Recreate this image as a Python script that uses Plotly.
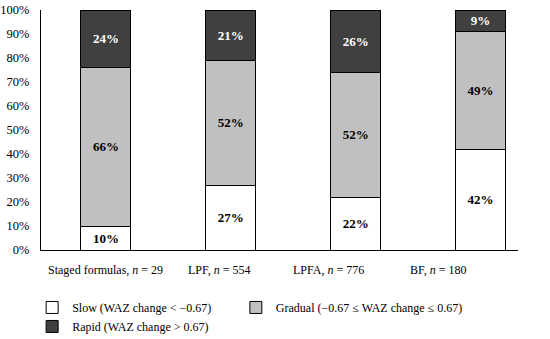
import plotly.graph_objects as go

categories = ["Staged formulas", "LPF", "LPFA", "BF"]
category_labels = ["Staged formulas, <i>n</i> = 29", "LPF, <i>n</i> = 554",
                   "LPFA, <i>n</i> = 776", "BF, <i>n</i> = 180"]
label_x = [0.0, 0.91, 1.78, 2.66]

slow = [10, 27, 22, 42]
gradual = [66, 52, 52, 49]
rapid = [24, 21, 26, 9]

series = [
    ("Slow (WAZ change < \u22120.67)", slow, "#ffffff", "#000000", "legend"),
    ("Gradual (\u22120.67 \u2264 WAZ change \u2264 0.67)", gradual, "#c0c0c0", "#000000", "legend2"),
    ("Rapid (WAZ change > 0.67)", rapid, "#404040", "#ffffff", "legend"),
]

FONT = "Liberation Serif"

fig = go.Figure()
for name, vals, color, tcolor, leg in series:
    fig.add_trace(go.Bar(
        x=categories, y=vals, name=name, legend=leg,
        marker=dict(color=color, line=dict(color="#000000", width=1)),
        text=[f"<b>{v}%</b>" for v in vals],
        textposition="inside", insidetextanchor="middle", textangle=0,
        constraintext="none",
        textfont=dict(family=FONT, size=13, color=tcolor),
        width=0.4,
    ))

for lab, lx in zip(category_labels, label_x):
    fig.add_annotation(x=lx, y=-0.083, xref="x", yref="paper", text=lab,
                       showarrow=False, xanchor="center", yanchor="middle",
                       font=dict(family=FONT, size=12, color="#000000"))

fig.update_layout(
    barmode="stack",
    width=550, height=339,
    margin=dict(l=41, r=32, t=10, b=89, autoexpand=False),
    paper_bgcolor="white", plot_bgcolor="white",
    font=dict(family=FONT, size=12, color="#000000"),
    showlegend=True,
    legend=dict(orientation="v", x=-0.0186, xanchor="left", y=-0.179, yanchor="top",
                traceorder="normal", font=dict(family=FONT, size=12),
                itemwidth=30, tracegroupgap=0),
    legend2=dict(orientation="v", x=0.4085, xanchor="left", y=-0.179, yanchor="top",
                 traceorder="normal", font=dict(family=FONT, size=12),
                 itemwidth=30, tracegroupgap=0),
)
fig.update_xaxes(range=[-0.52, 3.30], showticklabels=False, showline=True,
                 linecolor="#000000", linewidth=1, showgrid=False, ticks="",
                 zeroline=False, automargin=False)
fig.update_yaxes(range=[0, 100], tickvals=list(range(0, 101, 10)),
                 ticktext=[f"{v}%" for v in range(0, 101, 10)],
                 showline=True, linecolor="#000000", linewidth=1, showgrid=False,
                 ticks="", ticklabelstandoff=8, zeroline=False, automargin=False,
                 tickfont=dict(family=FONT, size=12.5))

fig.write_html("out.html", config={"displayModeBar": False},
               post_script="document.body.style.margin='0';")
